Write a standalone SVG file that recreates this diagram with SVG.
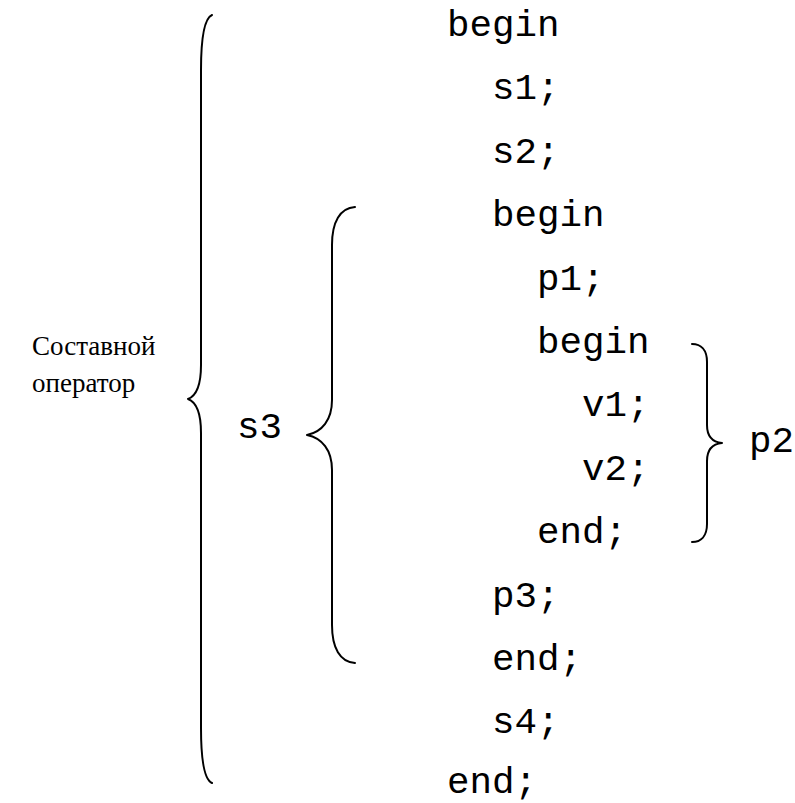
<svg xmlns="http://www.w3.org/2000/svg" width="795" height="803" viewBox="0 0 795 803">
<style>
.code{font-family:"Liberation Mono","Courier New",monospace;font-size:37.5px;fill:#000}
.ru{font-family:"Liberation Serif","Times New Roman",serif;font-size:27px;fill:#000}
.br{fill:none;stroke:#000;stroke-width:2;stroke-linecap:round;stroke-linejoin:round}
</style>
<rect width="795" height="803" fill="#fff"/>
<g id="code">
<text class="code" x="447" y="36">begin</text>
<text class="code" x="492" y="99.4">s1;</text>
<text class="code" x="492" y="162.8">s2;</text>
<text class="code" x="492" y="226.2">begin</text>
<text class="code" x="537" y="289.6">p1;</text>
<text class="code" x="537" y="353">begin</text>
<text class="code" x="582" y="416.4">v1;</text>
<text class="code" x="582" y="479.8">v2;</text>
<text class="code" x="537" y="543.2">end;</text>
<text class="code" x="492" y="606.6">p3;</text>
<text class="code" x="492" y="670">end;</text>
<text class="code" x="492" y="733.4">s4;</text>
<text class="code" x="447" y="793">end;</text>
</g>
<g id="label-compound">
<text class="ru" x="32" y="355">Составной</text>
<text class="ru" x="32" y="392">оператор</text>
</g>
<g id="label-s3"><text class="code" x="237" y="438">s3</text></g>
<g id="label-p2"><text class="code" x="749" y="452">p2</text></g>
<g id="braces">
<path id="brace-main" class="br" d="M212,15 C205,18 201,35 201,70 L201,365 C201,385 196,396 188,399 C196,402 201,413 201,433 L201,728 C201,763 205,780 212,783"/>
<path id="brace-s3" class="br" d="M355,207 C340,208 332,222 332,245 L332,400 C332,420 322,432 307,435 C322,438 332,450 332,470 L332,625 C332,648 340,662 355,663"/>
<path id="brace-p2" class="br" d="M692,344 C701,344 707,350 707,362 L707,425 C707,436 712,442 722,443 C712,444 707,450 707,461 L707,524 C707,536 701,542 692,542"/>
</g>
</svg>
